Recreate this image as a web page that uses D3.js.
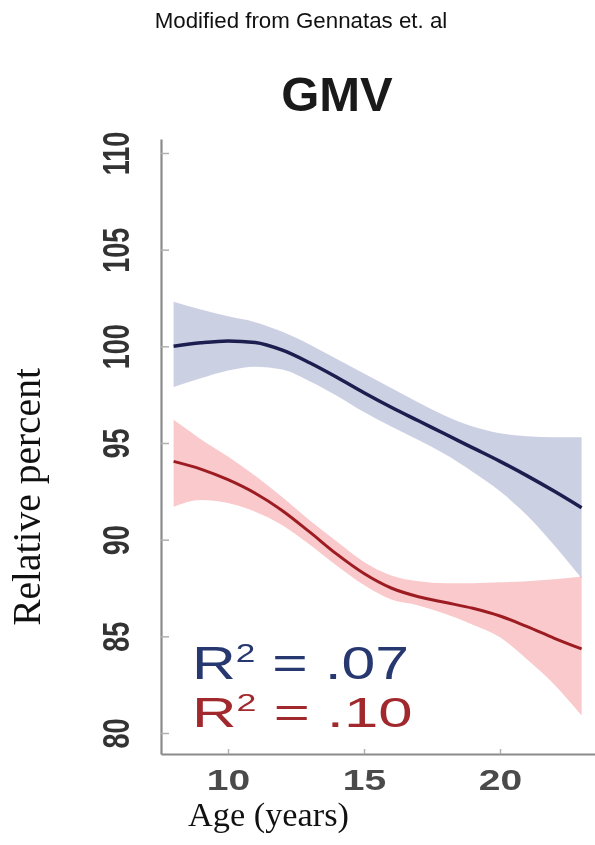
<!DOCTYPE html>
<html>
<head>
<meta charset="utf-8">
<script src="https://cdn.jsdelivr.net/npm/d3@7"></script>
<style>
  html, body { margin: 0; padding: 0; background: #fff; }
  svg { display: block; }
</style>
</head>
<body>
<svg id="chart" width="595" height="845"></svg>
<script>
// ---- Data ----
const ages = [8, 9, 10, 11, 12, 13, 14, 15, 16, 17, 18, 19, 20, 21, 22, 23];

const blueMean  = [100.0, 100.18, 100.28, 100.2, 99.8, 99.15, 98.4, 97.6, 96.85, 96.15, 95.45, 94.75, 94.05, 93.3, 92.5, 91.65];
const blueUpper = [102.3, 101.9, 101.55, 101.25, 100.75, 100.1, 99.35, 98.6, 97.85, 97.1, 96.4, 95.85, 95.5, 95.35, 95.3, 95.3];
const blueLower = [97.9, 98.35, 98.75, 98.95, 98.8, 98.2, 97.45, 96.6, 95.85, 95.15, 94.4, 93.5, 92.5, 91.25, 89.7, 88.0];

const redMean  = [94.05, 93.65, 93.1, 92.4, 91.5, 90.4, 89.25, 88.25, 87.5, 87.05, 86.75, 86.45, 86.05, 85.5, 84.9, 84.35];
const redUpper = [96.2, 95.2, 94.3, 93.3, 92.2, 91.0, 89.9, 88.85, 88.15, 87.85, 87.75, 87.75, 87.8, 87.85, 87.95, 88.1];
const redLower = [91.7, 92.05, 91.9, 91.45, 90.75, 89.75, 88.65, 87.65, 86.9, 86.6, 86.15, 85.6, 84.95, 83.8, 82.5, 80.9];

const xTicks = [10, 15, 20];
const yTicks = [80, 85, 90, 95, 100, 105, 110];

const r2Labels = [
  { r2: ".07", color: "#26386f" },
  { r2: ".10", color: "#a1282d" }
];

const headerText = "Modified from Gennatas et. al";
const titleText = "GMV";
const xTitle = "Age (years)";
const yTitle = "Relative percent";

// ---- Layout ----
const svg = d3.select("#chart");
const plotLeft = 161, plotRight = 595, plotTop = 139, plotBottom = 754;

const x = d3.scaleLinear()
  .domain([10 - (228 - plotLeft) / 27.2, 10 + (plotRight - 228) / 27.2])
  .range([plotLeft, plotRight]);
const y = d3.scaleLinear()
  .domain([80 - (plotBottom - 733) / 19.333, 110 + (153 - plotTop) / 19.333])
  .range([plotBottom, plotTop]);

// header text
svg.append("text")
  .attr("x", 301).attr("y", 28)
  .attr("text-anchor", "middle")
  .attr("font-family", "Liberation Sans, Arial, sans-serif")
  .attr("font-size", 22.3)
  .attr("fill", "#111")
  .text(headerText);

// panel title
svg.append("text")
  .attr("x", 337).attr("y", 111)
  .attr("text-anchor", "middle")
  .attr("font-family", "Liberation Sans, Arial, sans-serif")
  .attr("font-weight", "bold")
  .attr("font-size", 49)
  .attr("fill", "#1a1a1a")
  .text(titleText);

// bands
const area = (up, lo) => d3.area()
  .x((d, i) => x(ages[i]))
  .y0((d, i) => y(lo[i]))
  .y1((d, i) => y(up[i]))
  .curve(d3.curveMonotoneX);

const line = vals => d3.line()
  .x((d, i) => x(ages[i]))
  .y((d, i) => y(vals[i]))
  .curve(d3.curveMonotoneX);

svg.append("path")
  .datum(ages)
  .attr("d", area(blueUpper, blueLower))
  .attr("fill", "#c9cde1")
  .attr("opacity", 0.95);

svg.append("path")
  .datum(ages)
  .attr("d", area(redUpper, redLower))
  .attr("fill", "#f9c3c6")
  .attr("opacity", 0.9)
  .style("mix-blend-mode", "multiply");

svg.append("path")
  .datum(ages)
  .attr("d", line(blueMean))
  .attr("fill", "none")
  .attr("stroke", "#1b1e4e")
  .attr("stroke-width", 3.5);

svg.append("path")
  .datum(ages)
  .attr("d", line(redMean))
  .attr("fill", "none")
  .attr("stroke", "#9d1c22")
  .attr("stroke-width", 3);

// y axis
const yAxis = svg.append("g")
  .attr("transform", `translate(${plotLeft},0)`)
  .call(d3.axisLeft(y).tickValues(yTicks).tickSizeInner(-8).tickSizeOuter(0).tickFormat(d3.format("d")));
yAxis.select(".domain").attr("stroke", "#8a8a8a").attr("stroke-width", 2.2);
yAxis.selectAll(".tick line").attr("stroke", "#b0b0b0").attr("stroke-width", 1.5);
yAxis.selectAll(".tick text")
  .attr("x", null).attr("y", null).attr("dy", null)
  .attr("text-anchor", "middle")
  .attr("transform", `translate(${129 - plotLeft},0) scale(1.35,1) rotate(-90)`)
  .attr("font-family", "Liberation Sans, Arial, sans-serif")
  .attr("font-weight", "bold")
  .attr("font-size", 27)
  .attr("fill", "#333");

// x axis
const xAxis = svg.append("g")
  .attr("transform", `translate(0,${plotBottom})`)
  .call(d3.axisBottom(x).tickValues(xTicks).tickSizeInner(-5).tickSizeOuter(0).tickFormat(d3.format("d")));
xAxis.select(".domain").attr("stroke", "#8a8a8a").attr("stroke-width", 2.2);
xAxis.selectAll(".tick line").attr("stroke", "#b0b0b0").attr("stroke-width", 1.5);
xAxis.selectAll(".tick text")
  .attr("x", null).attr("y", null).attr("dy", null)
  .attr("text-anchor", "middle")
  .attr("transform", `translate(0,${790 - plotBottom}) scale(1.3,1)`)
  .attr("font-family", "Liberation Sans, Arial, sans-serif")
  .attr("font-weight", "bold")
  .attr("font-size", 30)
  .attr("fill", "#4a4a4a");

// R² labels
const r2Pos = [
  { baseline: 679, size: 46, sx: 1.32 },
  { baseline: 727, size: 42, sx: 1.47 }
];
r2Labels.forEach((d, i) => {
  const p = r2Pos[i];
  const t = svg.append("text")
    .attr("transform", `translate(192,${p.baseline}) scale(${p.sx},1)`)
    .attr("font-family", "Liberation Sans, Arial, sans-serif")
    .attr("font-size", p.size)
    .attr("fill", d.color);
  t.append("tspan").text("R");
  t.append("tspan").attr("font-size", p.size * 0.58).attr("dy", -p.size * 0.37).text("2");
  t.append("tspan").attr("dy", p.size * 0.37).text(" = " + d.r2);
});

// axis titles (serif)
svg.append("text")
  .attr("transform", `translate(40,497) rotate(-90)`)
  .attr("text-anchor", "middle")
  .attr("font-family", "Liberation Serif, Times New Roman, serif")
  .attr("font-size", 39.5)
  .attr("fill", "#111")
  .text(yTitle);

svg.append("text")
  .attr("x", 188).attr("y", 826)
  .attr("transform", "translate(188,826) scale(1.04,1) translate(-188,-826)")
  .attr("font-family", "Liberation Serif, Times New Roman, serif")
  .attr("font-size", 33)
  .attr("fill", "#111")
  .text(xTitle);
</script>
</body>
</html>
